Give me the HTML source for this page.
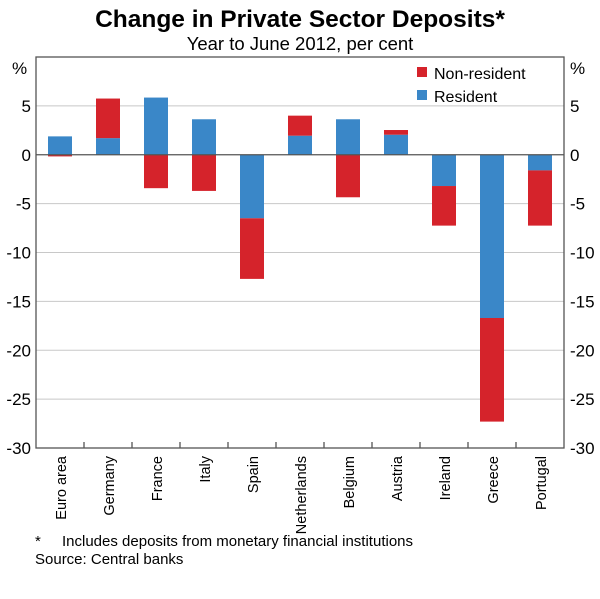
<!DOCTYPE html>
<html><head><meta charset="utf-8"><style>
body{margin:0;background:#fff;}
svg text{font-family:"Liberation Sans",Arial,sans-serif;fill:#000;}
</style></head><body>
<svg id="chart" width="600" height="594" xmlns="http://www.w3.org/2000/svg">
<text x="300" y="27" text-anchor="middle" font-size="24.5" font-weight="bold">Change in Private Sector Deposits*</text>
<text x="300" y="50" text-anchor="middle" font-size="18.5">Year to June 2012, per cent</text>
<text x="12" y="74" font-size="17">%</text>
<text x="570" y="74" font-size="17">%</text>
<g id="grid"></g><g id="bars"></g><g id="axes"></g>
<g>
<rect x="417" y="67" width="10" height="10" fill="#d5232b"/>
<text x="434" y="79" font-size="16">Non-resident</text>
<rect x="417" y="90" width="10" height="10" fill="#3a87c8"/>
<text x="434" y="102" font-size="16">Resident</text>
</g>
<text x="35" y="546" font-size="15">*</text>
<text x="62" y="546" font-size="15">Includes deposits from monetary financial institutions</text>
<text x="35" y="564" font-size="15">Source: Central banks</text>
</svg>
<script>
const categories=["Euro area","Germany","France","Italy","Spain","Netherlands","Belgium","Austria","Ireland","Greece","Portugal"];
const resident=[1.88,1.7,5.85,3.63,-6.5,1.95,3.63,2.05,-3.2,-16.7,-1.6];
const nonResident=[-0.17,4.05,-3.42,-3.7,-6.2,2.05,-4.35,0.48,-4.05,-10.6,-5.65];
const yTicks=[10,5,0,-5,-10,-15,-20,-25,-30];
const tickLabels=["","5","0","-5","-10","-15","-20","-25","-30"];
const NS="http://www.w3.org/2000/svg";
const L=36,R=564,T=57,B=448,yMax=10,yMin=-30;
const y=v=>T+(yMax-v)/(yMax-yMin)*(B-T);
const bw=(R-L)/categories.length;
const x=i=>L+i*bw;
function mk(tag,attrs,parent){const e=document.createElementNS(NS,tag);for(const k in attrs)e.setAttribute(k,attrs[k]);parent.appendChild(e);return e;}
const grid=document.getElementById('grid'),bars=document.getElementById('bars'),axes=document.getElementById('axes');
yTicks.forEach((t,i)=>{
  if(t!==yMax&&t!==yMin&&t!==0){const g=mk('line',{x1:L,x2:R,y1:y(t),y2:y(t),stroke:'#c8c8c8','stroke-width':1},grid);
  
  }
  if(tickLabels[i]){
  const a=mk('text',{x:L-5,y:y(t)+6,'text-anchor':'end','font-size':17},axes);a.textContent=tickLabels[i];
  
  
  const b=mk('text',{x:R+6,y:y(t)+6,'text-anchor':'start','font-size':17},axes);b.textContent=tickLabels[i];
  
  }
});
categories.forEach((c,i)=>{
  const cx=x(i)+bw/2,w=bw/2;
  const r=resident[i],n=nonResident[i];
  const rb=mk('rect',{x:cx-w/2,y:Math.min(y(0),y(r)),width:w,height:Math.abs(y(r)-y(0)),fill:'#3a87c8'},bars);
  
  
  const base=(Math.sign(n)===Math.sign(r))?r:0;
  const top=base+n;
  const nb=mk('rect',{x:cx-w/2,y:Math.min(y(base),y(top)),width:w,height:Math.abs(y(top)-y(base)),fill:'#d5232b'},bars);
  
  
  const lb=mk('text',{transform:`translate(${cx+6},${B+8}) rotate(-90)`,'text-anchor':'end','font-size':14.5},axes);lb.textContent=c;
  
  
  if(i>0){const tk=mk('line',{x1:x(i),x2:x(i),y1:B,y2:B-6,stroke:'#555','stroke-width':1.3},axes);
  
  }
});
const z=mk('line',{x1:L,x2:R,y1:y(0),y2:y(0),stroke:'#555','stroke-width':1.3},axes);


const f=mk('rect',{x:L,y:T,width:R-L,height:B-T,fill:'none',stroke:'#555','stroke-width':1.3},axes);


</script>
</body></html>
